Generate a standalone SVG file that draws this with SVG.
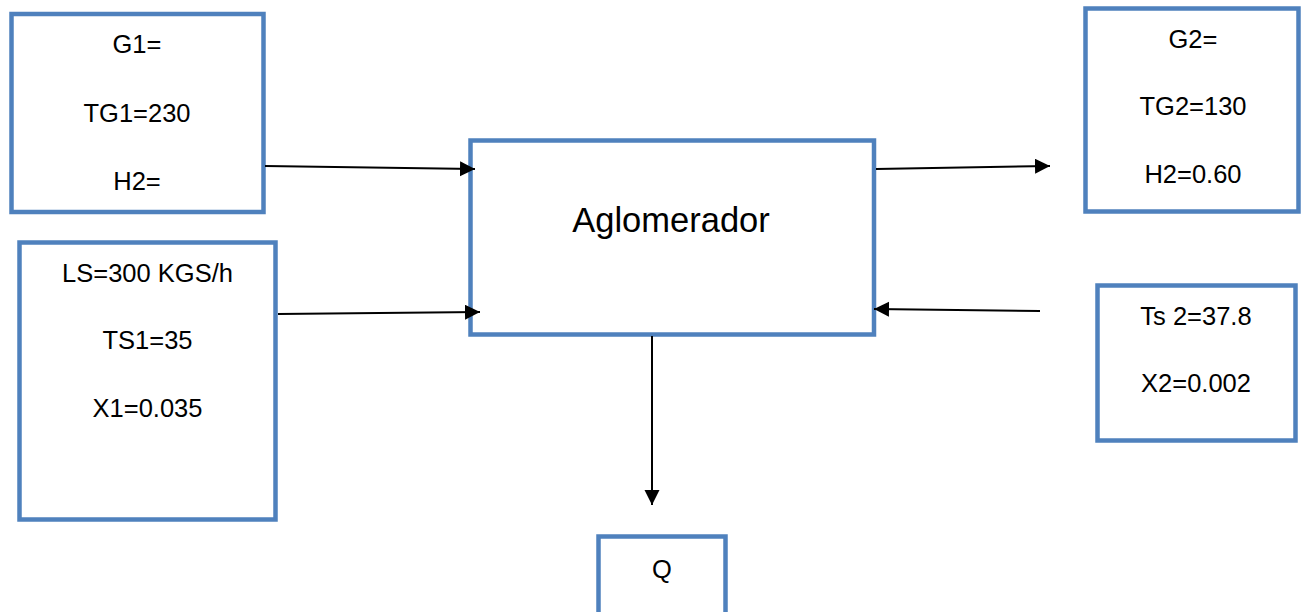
<svg xmlns="http://www.w3.org/2000/svg" width="1301" height="612" viewBox="0 0 1301 612">
<style>
.box{fill:#fff;stroke:#4F81BD;stroke-width:4.5}
.t{font-family:"Liberation Sans",Arial,sans-serif;font-size:25.5px;fill:#000;text-anchor:middle}
.big{font-size:34.5px}
.c{stroke:#000;stroke-width:2;fill:none}
</style>
<defs>
<marker id="ah" markerUnits="userSpaceOnUse" markerWidth="16" markerHeight="16" refX="15" refY="7.5" orient="auto">
<path d="M0,0 L15,7.5 L0,15 z" fill="#000"/>
</marker>
</defs>
<rect width="1301" height="612" fill="#fff"/>
<g id="g1">
<rect class="box" x="11.5" y="14" width="252" height="198"/>
<text class="t" x="137" y="53">G1=</text>
<text class="t" x="137" y="121.5">TG1=230</text>
<text class="t" x="137" y="190">H2=</text>
</g>
<g id="ls">
<rect class="box" x="19.5" y="242.5" width="256" height="277"/>
<text class="t" x="147.5" y="282">LS=300 KGS/h</text>
<text class="t" x="147.5" y="349">TS1=35</text>
<text class="t" x="147.5" y="417">X1=0.035</text>
</g>
<g id="aglomerador">
<rect class="box" x="470.5" y="140.5" width="403.5" height="194"/>
<text class="t big" x="671" y="232">Aglomerador</text>
</g>
<g id="g2">
<rect class="box" x="1085.5" y="8.5" width="213" height="203"/>
<text class="t" x="1193" y="48">G2=</text>
<text class="t" x="1193" y="115">TG2=130</text>
<text class="t" x="1193" y="183">H2=0.60</text>
</g>
<g id="ts2">
<rect class="box" x="1097.5" y="285.5" width="198" height="155"/>
<text class="t" x="1196" y="325">Ts 2=37.8</text>
<text class="t" x="1196" y="392">X2=0.002</text>
</g>
<g id="q">
<rect class="box" x="598.5" y="536.5" width="127" height="90"/>
<text class="t" x="662" y="578">Q</text>
</g>
<g id="connectors">
<line class="c" x1="265" y1="166" x2="475" y2="169" marker-end="url(#ah)"/>
<line class="c" x1="278" y1="314" x2="480" y2="312" marker-end="url(#ah)"/>
<line class="c" x1="876" y1="169" x2="1050" y2="166" marker-end="url(#ah)"/>
<line class="c" x1="1040" y1="311" x2="874" y2="309" marker-end="url(#ah)"/>
<line class="c" x1="652" y1="336" x2="652" y2="505" marker-end="url(#ah)"/>
</g>
</svg>
